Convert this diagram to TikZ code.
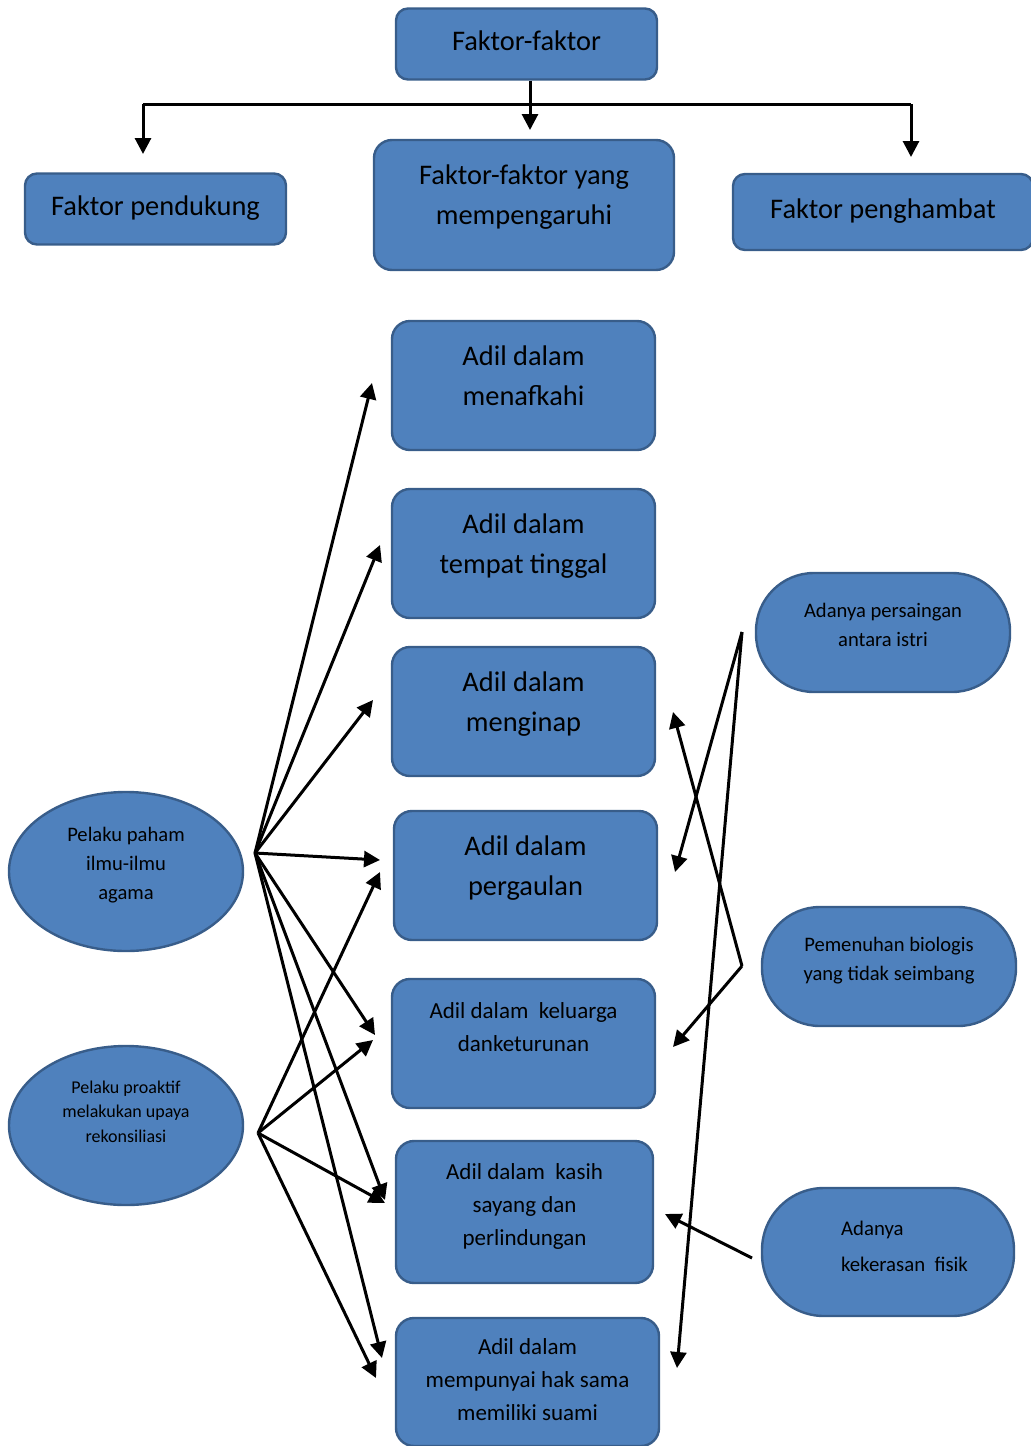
\documentclass[tikz,border=0pt]{standalone}
\usepackage{fontspec}
\setmainfont{Carlito}
\usepackage{tikz}
\usetikzlibrary{shapes, arrows.meta}
\definecolor{boxfill}{RGB}{79,129,189}
\definecolor{boxline}{RGB}{56,93,138}
\newcommand{\bigtext}{\fontsize{14.2}{20}\selectfont}
\newcommand{\midtext}{\fontsize{11.5}{16.5}\selectfont}
\newcommand{\ovaltext}{\fontsize{10.3}{14.5}\selectfont}
\newcommand{\tinytext}{\fontsize{9}{12.3}\selectfont}
\newcommand{\fisiktext}{\fontsize{10.4}{18}\selectfont}
\tikzstyle{box} = [draw=boxline, fill=boxfill, line width=1.2pt, rounded corners=9pt, align=center, inner sep=0,
                   minimum width=131.5pt, minimum height=64.5pt, font=\bigtext, text depth=10pt]
\tikzstyle{topbox} = [box, rounded corners=6pt, minimum width=130.5pt, minimum height=35.5pt, text depth=3pt]
\tikzstyle{oval} = [ellipse, draw=boxline, fill=boxfill, line width=1.2pt, align=center, inner sep=0,
                    minimum width=117pt, minimum height=79.5pt, font=\ovaltext, text depth=8pt]
\tikzstyle{pill} = [box, rounded corners=29pt, minimum width=127pt, minimum height=59.5pt, font=\ovaltext, text depth=8pt]
\tikzstyle{link} = [line width=1.5pt, -{Triangle[length=8pt, width=8pt]}]

\begin{document}
\begin{tikzpicture}[x=0.5pt, y=-0.5pt]
	\useasboundingbox (0, 0) rectangle (1031, 1446);

	% top row
	\node (Faktor) [topbox] at (526.5, 44) {Faktor-faktor};
	\node (Pendukung) [topbox] at (155.5, 209) {Faktor pendukung};
	\node (Pengaruh) [box, minimum width=150pt, minimum height=65pt] at (524, 205) {Faktor-faktor yang\\mempengaruhi};
	\node (Penghambat) [topbox, minimum width=150pt, minimum height=38pt] at (883, 212) {Faktor penghambat};

	\coordinate (LeftEnd) at (143, 104);
	\coordinate (RightEnd) at (911, 104);
	\coordinate (PendukungIn) at (143, 154);
	\coordinate (PengaruhIn) at (530, 130);
	\coordinate (PenghambatIn) at (911, 157);
	\draw [line width=1.5pt] (LeftEnd) -- (RightEnd);
	\draw [link] (LeftEnd) -- (PendukungIn);
	\draw [link] (Faktor.south -| PengaruhIn) -- (PengaruhIn);
	\draw [link] (RightEnd) -- (PenghambatIn);

	% middle column
	\node (Nafkah) [box] at (523.5, 385.5) {Adil dalam\\menafkahi};
	\node (Tinggal) [box] at (523.5, 553.5) {Adil dalam\\tempat tinggal};
	\node (Inap) [box] at (523.5, 711.5) {Adil dalam\\menginap};
	\node (Gaul) [box] at (525.5, 875.5) {Adil dalam\\pergaulan};
	\node (Turunan) [box, font=\midtext, text depth=16pt] at (523.5, 1043.5) {Adil dalam\ \ keluarga\\danketurunan};
	\node (Kasih) [box, font=\midtext, minimum width=128.5pt, minimum height=71pt, text depth=8pt] at (524.5, 1212) {Adil dalam\ \ kasih\\sayang dan\\perlindungan};
	\node (Suami) [box, font=\midtext, minimum height=64pt, text depth=3pt] at (527.5, 1382) {Adil dalam\\mempunyai hak sama\\memiliki suami};

	% left side
	\node (Paham) [oval] at (126, 871.5) {Pelaku paham\\ilmu-ilmu\\agama};
	\node (Proaktif) [oval, font=\tinytext, text depth=14pt] at (126, 1125.5) {Pelaku proaktif\\melakukan upaya\\rekonsiliasi};

	\coordinate (PahamHub) at (255, 853);
	\coordinate (NafkahL) at (372, 383);
	\coordinate (TinggalL) at (380, 545);
	\coordinate (InapL) at (373, 700);
	\coordinate (GaulL) at (380, 860);
	\coordinate (TurunanL) at (375, 1035);
	\coordinate (KasihL) at (385, 1200);
	\coordinate (SuamiL) at (382, 1358);
	\draw [link] (PahamHub) -- (NafkahL);
	\draw [link] (PahamHub) -- (TinggalL);
	\draw [link] (PahamHub) -- (InapL);
	\draw [link] (PahamHub) -- (GaulL);
	\draw [link] (PahamHub) -- (TurunanL);
	\draw [link] (PahamHub) -- (KasihL);
	\draw [link] (PahamHub) -- (SuamiL);

	\coordinate (ProaktifHub) at (258, 1133);
	\coordinate (GaulL2) at (380, 872);
	\coordinate (TurunanL2) at (373, 1040);
	\coordinate (KasihL2) at (385, 1203);
	\coordinate (SuamiL2) at (376, 1378);
	\draw [link] (ProaktifHub) -- (GaulL2);
	\draw [link] (ProaktifHub) -- (TurunanL2);
	\draw [link] (ProaktifHub) -- (KasihL2);
	\draw [link] (ProaktifHub) -- (SuamiL2);

	% right side
	\node (Saing) [pill] at (883, 632.5) {Adanya persaingan\\antara istri};
	\node (Biologis) [pill] at (889, 966.5) {Pemenuhan biologis\\yang tidak seimbang};
	\node (Fisik) [pill, minimum width=126pt, minimum height=64pt, rounded corners=31pt, align=left, font=\fisiktext, text depth=6pt] at (888, 1252)
		{\hspace*{16.5pt}Adanya\\\hspace*{16.5pt}kekerasan\ \ fisik};

	\coordinate (SaingHub) at (742, 632);
	\coordinate (GaulR) at (675, 872);
	\coordinate (SuamiR) at (677, 1368);
	\draw [link] (SaingHub) -- (GaulR);
	\draw [link] (SaingHub) -- (SuamiR);

	\coordinate (BiologisHub) at (742, 966);
	\coordinate (InapR) at (673, 712);
	\coordinate (TurunanR) at (673, 1047);
	\draw [link] (BiologisHub) -- (InapR);
	\draw [link] (BiologisHub) -- (TurunanR);

	\coordinate (FisikHub) at (752, 1258);
	\coordinate (KasihR) at (665, 1214);
	\draw [link] (FisikHub) -- (KasihR);
\end{tikzpicture}
\end{document}
